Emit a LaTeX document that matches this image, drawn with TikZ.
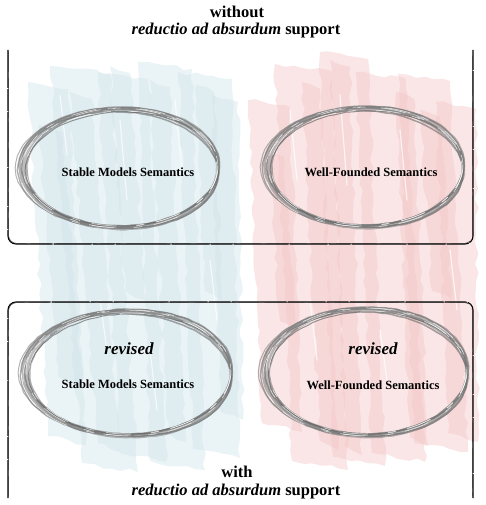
\documentclass[tikz,border=0pt]{standalone}
\usepackage{fontspec}
\setmainfont{Liberation Serif}[BoldFont={* Bold},ItalicFont={* Italic},BoldItalicFont={* Bold Italic}]
\newfontfamily\reffont{Liberation Serif}[BoldFont={* Bold},ItalicFont={* Italic},BoldItalicFont={* Bold Italic}]
\usetikzlibrary{decorations.pathmorphing}
\definecolor{bluebrush}{RGB}{206,226,233}
\definecolor{pinkbrush}{RGB}{243,196,196}
\tikzset{
  brushblue/.style={fill=bluebrush, fill opacity=0.42, draw=none, decorate,
    decoration={random steps, segment length=9pt, amplitude=2.2pt}},
  brushpink/.style={fill=pinkbrush, fill opacity=0.42, draw=none, decorate,
    decoration={random steps, segment length=9pt, amplitude=2.2pt}},
  streak/.style={draw=white, line width=1.2pt, draw opacity=0.7, line cap=round},
  frameline/.style={draw=black, line width=1.1pt, rounded corners=8pt,
    dash pattern=on 38pt off 1.2pt on 22pt off 1pt on 55pt off 0.8pt},
  frameline2/.style={draw=black!80, line width=0.5pt, rounded corners=8pt,
    dash pattern=on 20pt off 6pt on 40pt off 4pt},
  titletext/.style={font=\reffont\fontsize{16.5}{19}\selectfont\bfseries, inner sep=0pt},
  semlabel/.style={font=\reffont\fontsize{12.5}{15}\selectfont\bfseries, inner sep=0pt},
  revlabel/.style={font=\reffont\fontsize{17}{19}\selectfont\bfseries\itshape, inner sep=0pt},
  ellcenter/.style={inner sep=0pt, minimum size=0pt}
}
\newcommand{\SkEll}[3]{%
  \begin{scope}[shift={(#1.center)}]
    \foreach \dx/\dy/\drx/\dry/\rot/\lw/\gr/\op in {
      -1/0/0/0/0/4.0/40/0.65,
      -3/1/2/1/-2/2.6/48/0.6,
      1/-1/-1/0/2/1.8/52/0.6,
      -2/2/1/-1/-3/1.5/58/0.6,
      -4/-1/3/1/2/1.3/55/0.6,
      0/1/-1/-2/1/1.0/62/0.65,
      -5/0/4/0/0/1.0/50/0.6}{
      \draw[line width=\lw pt, color=black!\gr, draw opacity=\op, rotate=\rot, decorate,
        decoration={random steps, segment length=6pt, amplitude=0.4pt}]
        (\dx,\dy) ellipse [x radius=#2+\drx, y radius=#3+\dry];
    }
    \foreach \dx/\dy/\drx/\dry/\rot in {-2/0/0/1/-1, -3/1/2/-1/2, 0/-1/-1/0/1}{
      \draw[line width=0.5pt, white, draw opacity=0.8, rotate=\rot,
        dash pattern=on 25pt off 12pt on 8pt off 20pt]
        (\dx,\dy) ellipse [x radius=#2+\drx, y radius=#3+\dry];
    }
  \end{scope}}
\begin{document}
\begin{tikzpicture}[x=1pt, y=-1pt]
\pgfmathsetseed{11}
\useasboundingbox (0,0) rectangle (486,505);
% background brush strokes (blue, left)
\foreach \a/\b/\yt/\c/\d/\yb in {
  28/68/82/48/86/445, 50/110/66/82/138/472, 98/148/72/120/166/462,
  138/192/62/150/205/470, 178/232/72/193/240/458, 212/238/95/220/243/420,
  70/92/92/98/120/452, 150/170/80/168/186/442, 38/62/125/58/82/385,
  110/130/66/125/145/300, 196/214/85/205/222/300}{
  \path[brushblue] (\a,\yt) -- (\b,\yt+7) -- (\d,\yb) -- (\c,\yb-9) -- cycle;
}
% background brush strokes (pink, right)
\foreach \a/\b/\yt/\c/\d/\yb in {
  248/290/100/262/302/432, 275/332/64/292/348/470, 320/368/52/333/385/466,
  356/406/72/372/425/462, 398/450/74/414/468/452, 436/476/102/448/478/442,
  302/320/82/320/338/450, 396/414/92/410/428/446, 330/350/60/345/362/455,
  268/284/150/280/296/330, 420/440/110/432/452/300}{
  \path[brushpink] (\a,\yt) -- (\b,\yt+7) -- (\d,\yb) -- (\c,\yb-9) -- cycle;
}
% white streaks inside the strokes
\foreach \x/\y/\l in {60/95/60, 120/120/80, 175/100/70, 210/260/60, 100/300/50,
  150/350/60, 290/110/70, 340/95/90, 400/130/70, 450/250/60, 310/300/60, 380/330/50}{
  \draw[streak] (\x,\y) .. controls (\x+3,\y+\l*0.5) .. (\x+7,\y+\l);
}
% frames
\draw[frameline] (8,50) -- (8,244) -- (473,244) -- (473,50);
\draw[frameline2] (8.6,52) -- (8.6,243.4) -- (472.4,243.4) -- (472.4,52);
\draw[frameline] (8,498) -- (8,302) -- (473,302) -- (473,498);
\draw[frameline2] (8.6,496) -- (8.6,302.6) -- (472.4,302.6) -- (472.4,496);
% ellipse centres
\node[ellcenter] (e1) at (122,168) {};
\node[ellcenter] (e2) at (367,167) {};
\node[ellcenter] (e3) at (130,373) {};
\node[ellcenter] (e4) at (368,372) {};
\SkEll{e1}{97}{59}
\SkEll{e2}{97}{59}
\SkEll{e3}{102}{62}
\SkEll{e4}{100}{63}
% texts
\node[titletext] (t1) at (237,12) {without};
\node[titletext] (t2) at (236,31) {\textit{reductio ad absurdum} support};
\node[semlabel] (s1) at (128,172) {Stable Models Semantics};
\node[semlabel] (s2) at (371,172) {Well-Founded Semantics};
\node[revlabel] (r3) at (129,349) {revised};
\node[semlabel] (s3) at (128,384) {Stable Models Semantics};
\node[revlabel] (r4) at (373,349) {revised};
\node[semlabel] (s4) at (373,385) {Well-Founded Semantics};
\node[titletext] (b1) at (237,472) {with};
\node[titletext] (b2) at (236,492) {\textit{reductio ad absurdum} support};
\end{tikzpicture}
\end{document}
